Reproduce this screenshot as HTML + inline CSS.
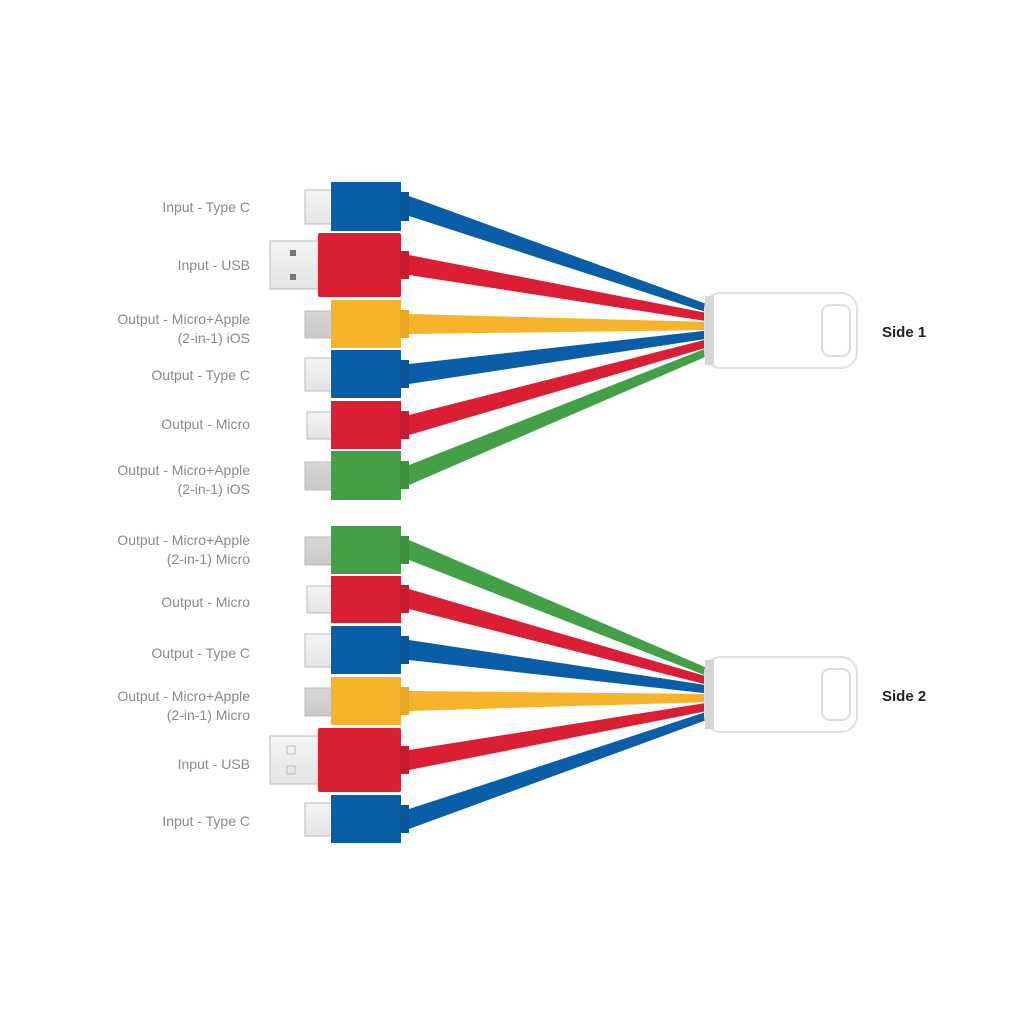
<!DOCTYPE html>
<html><head><meta charset="utf-8"><style>
html,body{margin:0;padding:0;background:#fff;}
svg{display:block}
.l{font-family:"Liberation Sans",sans-serif;font-size:14px;fill:#8a8a8a;text-anchor:end}
.s{font-family:"Liberation Sans",sans-serif;font-size:15px;font-weight:bold;fill:#222}
</style></head><body>
<svg width="1022" height="1023" viewBox="0 0 1022 1023" xmlns="http://www.w3.org/2000/svg">
<defs>
<linearGradient id="pl" x1="0" y1="0" x2="0" y2="1"><stop offset="0" stop-color="#f4f4f4"/><stop offset="1" stop-color="#e4e4e4"/></linearGradient>
<linearGradient id="gp" x1="0" y1="0" x2="0" y2="1"><stop offset="0" stop-color="#d8d8d8"/><stop offset="1" stop-color="#c8c8c8"/></linearGradient>
</defs>
<g id="cables">
<!-- side1 -->
<polygon points="409,196 409,216 712,314 712,306" fill="#0a5ea8"/>
<polygon points="409,255 409,275 712,322 712,314" fill="#da1f35"/>
<polygon points="409,314 409,334 712,330 712,322" fill="#f7b32b"/>
<polygon points="409,364 409,384 712,338 712,330" fill="#0a5ea8"/>
<polygon points="409,415 409,435 712,346 712,338" fill="#da1f35"/>
<polygon points="409,465 409,485 712,354 712,346" fill="#43a047"/>
<!-- side2 -->
<polygon points="409,540 409,560 712,678 712,670" fill="#43a047"/>
<polygon points="409,589 409,609 712,686 712,678" fill="#da1f35"/>
<polygon points="409,640 409,660 712,694 712,686" fill="#0a5ea8"/>
<polygon points="409,691 409,711 712,702 712,694" fill="#f7b32b"/>
<polygon points="409,750 409,770 712,710 712,702" fill="#da1f35"/>
<polygon points="409,809 409,829 712,718 712,710" fill="#0a5ea8"/>
</g>
<!-- hubs -->
<g>
<rect x="705" y="293" width="152" height="75" rx="16" fill="#fff" stroke="#e0e0e0" stroke-width="2"/>
<rect x="705" y="296" width="9" height="69" fill="#d6d6d6"/>
<rect x="822" y="305" width="28" height="51" rx="8" fill="#fff" stroke="#ddd" stroke-width="2"/>
<rect x="705" y="657" width="152" height="75" rx="16" fill="#fff" stroke="#e0e0e0" stroke-width="2"/>
<rect x="705" y="660" width="9" height="69" fill="#d6d6d6"/>
<rect x="822" y="669" width="28" height="51" rx="8" fill="#fff" stroke="#ddd" stroke-width="2"/>
</g>
<text class="s" x="882" y="337">Side 1</text>
<text class="s" x="882" y="701">Side 2</text>
<!-- plugs -->
<g stroke="#bbb" stroke-width="1">
<rect x="305" y="190" width="27" height="34" fill="url(#pl)"/>
<rect x="270" y="241" width="50" height="48" fill="url(#pl)"/>
<rect x="305" y="311" width="27" height="27" fill="url(#gp)"/>
<rect x="305" y="358" width="27" height="33" fill="url(#pl)"/>
<rect x="307" y="412" width="25" height="27" fill="url(#pl)"/>
<rect x="305" y="462" width="27" height="28" fill="url(#gp)"/>
<rect x="305" y="537" width="27" height="28" fill="url(#gp)"/>
<rect x="307" y="586" width="25" height="27" fill="url(#pl)"/>
<rect x="305" y="634" width="27" height="33" fill="url(#pl)"/>
<rect x="305" y="688" width="27" height="28" fill="url(#gp)"/>
<rect x="270" y="736" width="50" height="48" fill="url(#pl)"/>
<rect x="305" y="803" width="27" height="33" fill="url(#pl)"/>
</g>
<rect x="290" y="250" width="6" height="6" fill="#777"/>
<rect x="290" y="274" width="6" height="6" fill="#777"/>
<rect x="287" y="746" width="8" height="8" fill="none" stroke="#bbb"/>
<rect x="287" y="766" width="8" height="8" fill="none" stroke="#bbb"/>
<!-- bodies + collars -->
<g>
<rect x="331" y="182" width="70" height="49" fill="#0a5ea8"/><rect x="400" y="192" width="9" height="29" fill="#09559a"/>
<rect x="318" y="233" width="83" height="64" rx="2" fill="#da1f35"/><rect x="400" y="251" width="9" height="28" fill="#c51b30"/>
<rect x="331" y="300" width="70" height="48" fill="#f7b32b"/><rect x="400" y="310" width="9" height="28" fill="#e8a623"/>
<rect x="331" y="350" width="70" height="48" fill="#0a5ea8"/><rect x="400" y="360" width="9" height="28" fill="#09559a"/>
<rect x="331" y="401" width="70" height="48" fill="#da1f35"/><rect x="400" y="411" width="9" height="28" fill="#c51b30"/>
<rect x="331" y="451" width="70" height="49" fill="#43a047"/><rect x="400" y="461" width="9" height="28" fill="#3b9140"/>

<rect x="331" y="526" width="70" height="48" fill="#43a047"/><rect x="400" y="536" width="9" height="28" fill="#3b9140"/>
<rect x="331" y="576" width="70" height="47" fill="#da1f35"/><rect x="400" y="585" width="9" height="28" fill="#c51b30"/>
<rect x="331" y="626" width="70" height="48" fill="#0a5ea8"/><rect x="400" y="636" width="9" height="28" fill="#09559a"/>
<rect x="331" y="677" width="70" height="48" fill="#f7b32b"/><rect x="400" y="687" width="9" height="28" fill="#e8a623"/>
<rect x="318" y="728" width="83" height="64" rx="2" fill="#da1f35"/><rect x="400" y="746" width="9" height="28" fill="#c51b30"/>
<rect x="331" y="795" width="70" height="48" fill="#0a5ea8"/><rect x="400" y="805" width="9" height="28" fill="#09559a"/>
</g>
<!-- labels -->
<text class="l" x="250" y="212">Input - Type C</text>
<text class="l" x="250" y="270">Input - USB</text>
<text class="l" x="250" y="324">Output - Micro+Apple</text>
<text class="l" x="250" y="343">(2-in-1) iOS</text>
<text class="l" x="250" y="380">Output - Type C</text>
<text class="l" x="250" y="429">Output - Micro</text>
<text class="l" x="250" y="475">Output - Micro+Apple</text>
<text class="l" x="250" y="494">(2-in-1) iOS</text>
<text class="l" x="250" y="545">Output - Micro+Apple</text>
<text class="l" x="250" y="564">(2-in-1) Micro</text>
<text class="l" x="250" y="607">Output - Micro</text>
<text class="l" x="250" y="658">Output - Type C</text>
<text class="l" x="250" y="701">Output - Micro+Apple</text>
<text class="l" x="250" y="720">(2-in-1) Micro</text>
<text class="l" x="250" y="769">Input - USB</text>
<text class="l" x="250" y="826">Input - Type C</text>
</svg>
</body></html>
